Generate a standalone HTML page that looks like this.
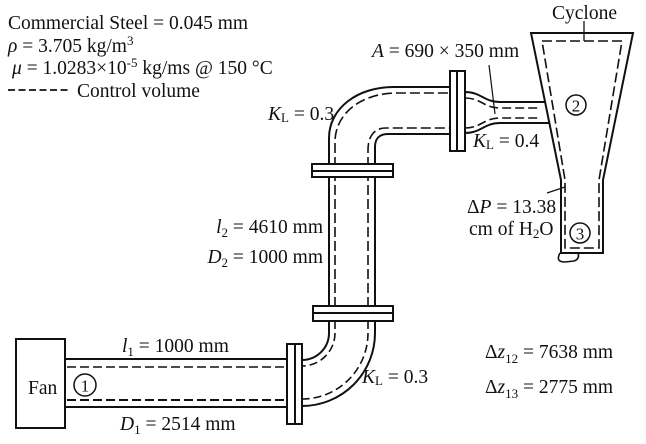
<!DOCTYPE html>
<html><head><meta charset="utf-8">
<style>
html,body{margin:0;padding:0;background:#fff;}
svg{display:block;}
text{font-family:"Liberation Serif","Times New Roman",serif;font-size:19.5px;fill:#111;}
.i{font-style:italic;}
.s{font-size:13px;}
</style></head>
<body>
<svg width="646" height="444" viewBox="0 0 646 444" xmlns="http://www.w3.org/2000/svg">
<g fill="none" stroke="#111" stroke-width="2">
  <rect x="16" y="339" width="49" height="89" fill="#fff"/>
  <line x1="65" y1="359" x2="287" y2="359"/>
  <line x1="65" y1="407" x2="287" y2="407"/>
  <line x1="67" y1="367" x2="287" y2="367" stroke-dasharray="9 4" stroke-width="1.6"/>
  <line x1="67" y1="400" x2="287" y2="400" stroke-dasharray="9 4"/>
  <path d="M329,321 L329,333 A27,27 0 0 1 302,360"/>
  <path d="M375,321 L375,333 A73,73 0 0 1 302,406"/>
  <path d="M335,321 L335,333 A33,33 0 0 1 302,366" stroke-dasharray="8 4" stroke-width="1.6"/>
  <path d="M368,321 L368,333 A66,66 0 0 1 302,399" stroke-dasharray="8 4" stroke-width="1.6"/>
  <path d="M329,321 L329,138 C329,108 358,87 393,87 L450,87"/>
  <path d="M375,321 L375,147 C375,139 379,134 388,134 L450,134"/>
  <path d="M335,321 L335,142 C335,113 362,93 397,93 L450,93" stroke-dasharray="10 4" stroke-width="1.6"/>
  <path d="M368,321 L368,150 C368,138 373,128 386,128 L450,128" stroke-dasharray="10 4" stroke-width="1.6"/>
  <path d="M465,92 C481,92 484,102 500,102 L546,102"/>
  <path d="M465,98 C481,98 484,108 500,108 L540,108" stroke-dasharray="9 4" stroke-width="1.6"/>
  <path d="M465,128 C481,128 484,118 500,118 L540,118" stroke-dasharray="9 4" stroke-width="1.6"/>
  <path d="M465,133 C481,133 484,123 500,123 L549,123"/>
  <path d="M531,33 L633,33 L603,180 L603,253 L561,253 L561,180 Z" fill="#fff"/>
  <path d="M560,253 Q555,262 565,262 L574,261 Q580,259 578,253" stroke-width="1.6"/>
  <path d="M542,41 L622,41 L599,180 L599,248 L565,248 L565,180 Z" stroke-dasharray="10 4" stroke-width="1.6"/>
  <line x1="584" y1="21" x2="584" y2="41" stroke-width="1.3"/>
  <circle cx="576" cy="105" r="10" stroke-width="1.5"/>
  <circle cx="580" cy="233" r="10" stroke-width="1.5"/>
  <circle cx="85" cy="385" r="11" stroke-width="1.5"/>
  <line x1="489" y1="65" x2="495" y2="114" stroke-width="1.2"/>
  <line x1="547" y1="193" x2="565" y2="187" stroke-width="1.2"/>
  <rect x="287" y="344" width="15" height="80" fill="#fff"/>
  <line x1="295" y1="344" x2="295" y2="424"/>
  <rect x="450" y="71" width="15" height="80" fill="#fff"/>
  <line x1="457" y1="71" x2="457" y2="151"/>
  <rect x="312" y="164" width="81" height="13" fill="#fff"/>
  <line x1="312" y1="171" x2="393" y2="171"/>
  <rect x="313" y="306" width="80" height="15" fill="#fff"/>
  <line x1="313" y1="313" x2="393" y2="313"/>
  <line x1="8" y1="90" x2="71" y2="90" stroke-dasharray="7 3.5" stroke-width="1.8"/>
</g>

<text x="8" y="29">Commercial Steel = 0.045 mm</text>
<text x="8" y="52"><tspan class="i">ρ</tspan> = 3.705 kg/m<tspan class="s" dy="-7">3</tspan></text>
<text x="12" y="74"><tspan class="i">μ</tspan> = 1.0283×10<tspan class="s" dy="-7">-5</tspan><tspan dy="7"> kg/ms @ 150 °C</tspan></text>
<text x="77" y="97">Control volume</text>

<text x="552" y="19">Cyclone</text>
<text x="372" y="57"><tspan class="i">A</tspan> = 690 × 350 mm</text>
<text x="268" y="120"><tspan class="i">K</tspan><tspan class="s" dy="2">L</tspan><tspan dy="-2"> = 0.3</tspan></text>
<text x="473" y="147"><tspan class="i">K</tspan><tspan class="s" dy="2">L</tspan><tspan dy="-2"> = 0.4</tspan></text>
<text x="467" y="213">Δ<tspan class="i">P</tspan> = 13.38</text>
<text x="469" y="235">cm of H<tspan class="s" dy="3">2</tspan><tspan dy="-3">O</tspan></text>

<text x="323" y="233" text-anchor="end"><tspan class="i">l</tspan><tspan class="s" dy="4">2</tspan><tspan dy="-4"> = 4610 mm</tspan></text>
<text x="323" y="263" text-anchor="end"><tspan class="i">D</tspan><tspan class="s" dy="4">2</tspan><tspan dy="-4"> = 1000 mm</tspan></text>

<text x="122" y="352"><tspan class="i">l</tspan><tspan class="s" dy="4">1</tspan><tspan dy="-4"> = 1000 mm</tspan></text>
<text x="120" y="430"><tspan class="i">D</tspan><tspan class="s" dy="4">1</tspan><tspan dy="-4"> = 2514 mm</tspan></text>
<text x="28" y="394">Fan</text>
<text x="85" y="391.5" text-anchor="middle" style="font-size:17px">1</text>
<text x="576" y="111.5" text-anchor="middle" style="font-size:17px">2</text>
<text x="580" y="239.5" text-anchor="middle" style="font-size:17px">3</text>

<text x="362" y="383"><tspan class="i">K</tspan><tspan class="s" dy="2">L</tspan><tspan dy="-2"> = 0.3</tspan></text>

<text x="485" y="358">Δ<tspan class="i">z</tspan><tspan class="s" dy="5">12</tspan><tspan dy="-5"> = 7638 mm</tspan></text>
<text x="485" y="393">Δ<tspan class="i">z</tspan><tspan class="s" dy="5">13</tspan><tspan dy="-5"> = 2775 mm</tspan></text>
</svg>
</body></html>
